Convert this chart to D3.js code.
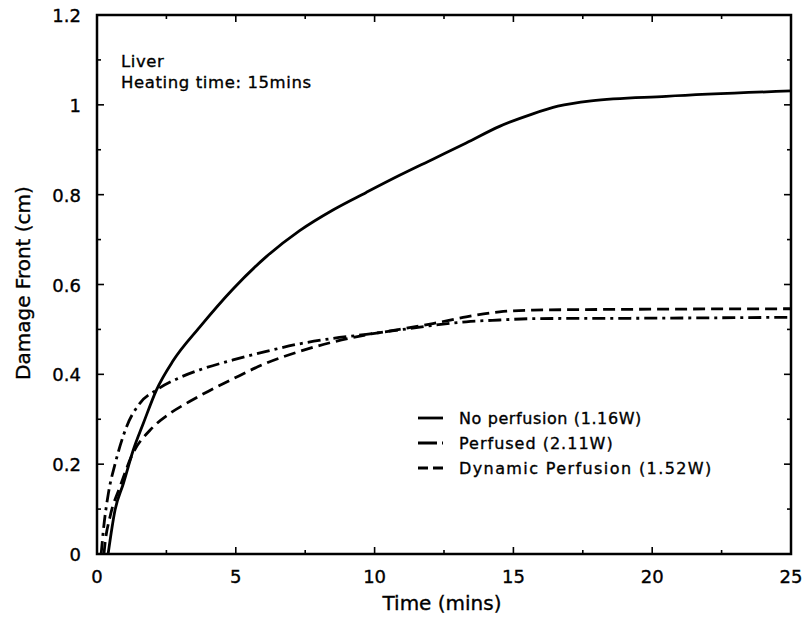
<!DOCTYPE html>
<html><head><meta charset="utf-8">
<script src="https://cdn.jsdelivr.net/npm/d3@7"></script>
<style>body{margin:0;background:#fff}svg{display:block}text{font-family:"DejaVu Sans",sans-serif;fill:#000;stroke:#000;stroke-width:0.35px}</style>
</head><body><svg id="c" width="807" height="619"></svg>
<script>
const xTicks=[0,5,10,15,20,25];
const yTicks=[0,0.2,0.4,0.6,0.8,1,1.2];
const yTickLabels=["0","0.2","0.4","0.6","0.8","1","1.2"];
const noPerfusion=[[0.4,0],[0.65,0.098],[0.95,0.157],[1.31,0.232],[1.67,0.291],[2.14,0.365],[2.74,0.43],[3.7,0.505],[4.9,0.59],[6.1,0.662],[7.3,0.72],[8.5,0.766],[9.7,0.805],[10.9,0.843],[12.1,0.879],[13.3,0.915],[14.5,0.952],[15.7,0.98],[16.6,0.997],[17.8,1.009],[20.5,1.019],[25,1.031]];
const perfused=[[0.15,0],[0.23,0.053],[0.41,0.135],[0.65,0.2],[1.07,0.284],[1.55,0.336],[2.14,0.365],[2.99,0.393],[3.7,0.41],[4.9,0.432],[6.1,0.451],[7.3,0.468],[8.5,0.48],[9.7,0.489],[10.9,0.499],[12.1,0.509],[13.3,0.517],[14.5,0.521],[15.7,0.524],[20,0.525],[25,0.527]];
const dynamic=[[0.25,0],[0.29,0.024],[0.47,0.083],[0.83,0.15],[1.3,0.225],[1.9,0.275],[2.63,0.313],[3.35,0.34],[4.0,0.362],[4.9,0.39],[6.1,0.425],[7.3,0.451],[8.5,0.472],[9.7,0.488],[10.9,0.5],[12.1,0.513],[13.3,0.528],[14.5,0.539],[15.7,0.543],[20,0.545],[25,0.546]];
const series=[
 {name:"No perfusion (1.16W)",data:noPerfusion,dash:null,key:null},
 {name:"Perfused (2.11W)",data:perfused,dash:"13,5,3,5",key:"19,5,3,5"},
 {name:"Dynamic Perfusion (1.52W)",data:dynamic,dash:"12,6",key:"10,5"}
];
const svg=d3.select("#c");
const L=97,R=791,T=15,B=554;
const x=d3.scaleLinear().domain([0,25]).range([L,R]);
const y=d3.scaleLinear().domain([0,1.2]).range([B,T]);
const g=svg.append("g");
g.append("rect").attr("x",L).attr("y",T).attr("width",R-L).attr("height",B-T).attr("fill","none").attr("stroke","#000").attr("stroke-width",2.5);
const xMinor=d3.range(0,25.01,2.5), yMinor=d3.range(0,1.201,0.1);
xMinor.forEach(v=>{const maj=Math.abs(v%5)<1e-6;const l=maj?7:4;
  g.append("line").attr("x1",x(v)).attr("x2",x(v)).attr("y1",B).attr("y2",B-l).attr("stroke","#000").attr("stroke-width",1.6);
  g.append("line").attr("x1",x(v)).attr("x2",x(v)).attr("y1",T).attr("y2",T+l).attr("stroke","#000").attr("stroke-width",1.6);});
yMinor.forEach((v,i)=>{const maj=i%2===0;const l=maj?7:4;
  g.append("line").attr("x1",L).attr("x2",L+l).attr("y1",y(v)).attr("y2",y(v)).attr("stroke","#000").attr("stroke-width",1.6);
  g.append("line").attr("x1",R).attr("x2",R-l).attr("y1",y(v)).attr("y2",y(v)).attr("stroke","#000").attr("stroke-width",1.6);});
xTicks.forEach(v=>g.append("text").attr("x",x(v)).attr("y",B+29).attr("text-anchor","middle").attr("font-size",18).text(v));
yTicks.forEach((v,i)=>g.append("text").attr("x",L-16).attr("y",y(v)+7).attr("text-anchor","end").attr("font-size",18).text(yTickLabels[i]));
svg.append("text").attr("x",442).attr("y",610).attr("text-anchor","middle").attr("font-size",20).text("Time (mins)");
svg.append("text").attr("transform","translate(30,283) rotate(-90)").attr("text-anchor","middle").attr("font-size",20).text("Damage Front (cm)");
svg.append("text").attr("x",121).attr("y",67).attr("font-size",16.5).attr("letter-spacing",0.6).text("Liver");
svg.append("text").attr("x",121).attr("y",88).attr("font-size",16.5).attr("letter-spacing",0.6).text("Heating time: 15mins");
const line=d3.line().x(d=>x(d[0])).y(d=>y(d[1])).curve(d3.curveMonotoneX);
series.forEach(s=>{g.append("path").attr("d",line(s.data)).attr("fill","none").attr("stroke","#000").attr("stroke-width",2.8).attr("stroke-dasharray",s.dash);});
const spacing=[0.6,1,1.4];
series.forEach((s,i)=>{const yy=418+i*25;
 g.append("line").attr("x1",418).attr("x2",443).attr("y1",yy).attr("y2",yy).attr("stroke","#000").attr("stroke-width",2.8).attr("stroke-dasharray",s.key);
 g.append("text").attr("x",459).attr("y",yy+6).attr("font-size",16).attr("letter-spacing",spacing[i]).text(s.name);});
</script></body></html>
